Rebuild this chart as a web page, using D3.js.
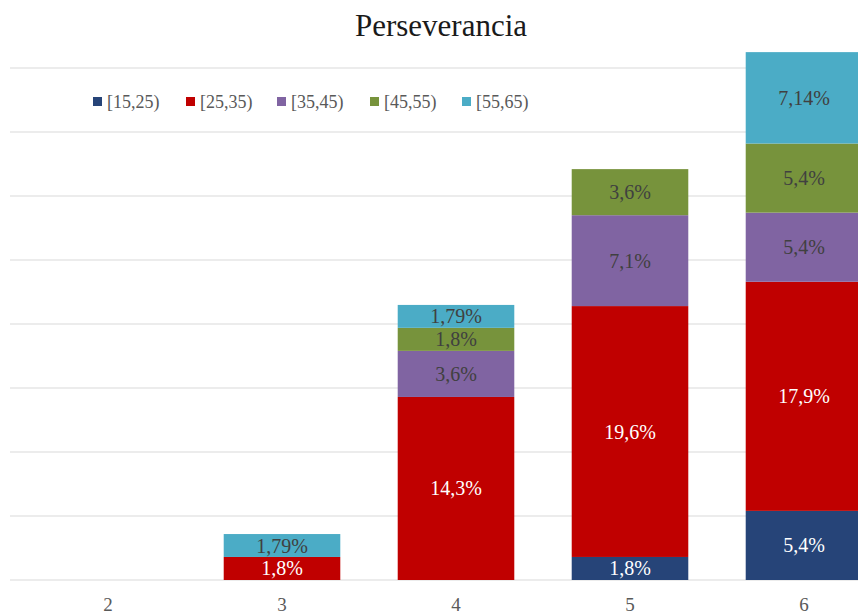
<!DOCTYPE html>
<html>
<head>
<meta charset="utf-8">
<script src="https://cdn.jsdelivr.net/npm/d3@7"></script>
<style>
  html, body { margin: 0; padding: 0; background: #fff; }
  svg { display: block; font-family: "Liberation Serif", "Times New Roman", serif; }
</style>
</head>
<body>
<div id="chart"></div>
<script>
/* Perseverancia — barras apiladas por grupo de edad */
const categories = ["2", "3", "4", "5", "6"];
const groups = ["[15,25)", "[25,35)", "[35,45)", "[45,55)", "[55,65)"];
const s15_25 = [0, 0, 0, 1.8, 5.4];
const s25_35 = [0, 1.8, 14.3, 19.6, 17.9];
const s35_45 = [0, 0, 3.6, 7.1, 5.4];
const s45_55 = [0, 0, 1.8, 3.6, 5.4];
const s55_65 = [0, 1.79, 1.79, 0, 7.14];
const yTicks = [0, 5, 10, 15, 20, 25, 30, 35, 40];

const colors = ["#264478", "#C00000", "#8064A2", "#77933C", "#4BACC6"];
const textColors = ["#ffffff", "#ffffff", "#404040", "#404040", "#404040"];

const W = 858, H = 616;
const svg = d3.select("#chart").append("svg").attr("width", W).attr("height", H);

const rows = categories.map((c, i) => ({
  cat: c,
  [groups[0]]: s15_25[i], [groups[1]]: s25_35[i], [groups[2]]: s35_45[i],
  [groups[3]]: s45_55[i], [groups[4]]: s55_65[i]
}));
const stack = d3.stack().keys(groups)(rows);

const x = d3.scaleBand().domain(categories).range([21, 891]).paddingInner(0.33).paddingOuter(0.165);
const y = d3.scaleLinear().domain([0, 40]).range([580, 68]);

/* título */
svg.append("text").attr("x", 441).attr("y", 36).attr("text-anchor", "middle")
  .attr("font-size", 31).attr("fill", "#1a1a1a").text("Perseverancia");

/* líneas de cuadrícula */
svg.append("g").selectAll("line").data(yTicks).join("line")
  .attr("x1", 10).attr("x2", W).attr("y1", d => y(d)).attr("y2", d => y(d))
  .attr("stroke", "#e6e6e6").attr("stroke-width", 1.5);

/* barras */
stack.forEach((layer, k) => {
  const g = svg.append("g");
  g.selectAll("rect").data(layer.filter(d => d[1] - d[0] > 0)).join("rect")
    .attr("x", d => x(d.data.cat)).attr("width", x.bandwidth())
    .attr("y", d => y(d[1])).attr("height", d => y(d[0]) - y(d[1]))
    .attr("fill", colors[k]);
  g.selectAll("text").data(layer.filter(d => d[1] - d[0] > 0)).join("text")
    .attr("x", d => x(d.data.cat) + x.bandwidth() / 2)
    .attr("y", d => (y(d[0]) + y(d[1])) / 2 + 7)
    .attr("text-anchor", "middle").attr("font-size", 20)
    .attr("fill", textColors[k])
    .text(d => String(+(d[1] - d[0]).toFixed(2)).replace(".", ",") + "%");
});

/* eje x */
svg.append("g").selectAll("text").data(categories).join("text")
  .attr("x", d => x(d) + x.bandwidth() / 2).attr("y", 611)
  .attr("text-anchor", "middle").attr("font-size", 19).attr("fill", "#595959")
  .text(d => d);

/* leyenda */
const legX = [93, 186, 277, 370, 462];
const leg = svg.append("g").selectAll("g").data(groups).join("g")
  .attr("transform", (d, i) => `translate(${legX[i]},102)`);
leg.append("rect").attr("x", 0).attr("y", -5).attr("width", 9).attr("height", 9)
  .attr("fill", (d, i) => colors[i]);
leg.append("text").attr("x", 14).attr("y", 6).attr("font-size", 18)
  .attr("fill", "#595959").text(d => d);
</script>
</body>
</html>
